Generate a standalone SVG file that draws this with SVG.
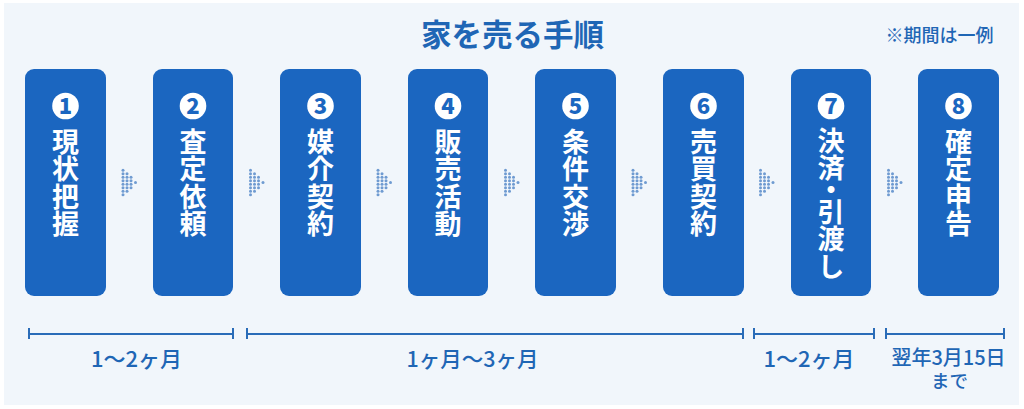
<svg xmlns="http://www.w3.org/2000/svg" xmlns:xlink="http://www.w3.org/1999/xlink" width="1024" height="409" viewBox="0 0 1024 409">
<style>
text{font-family:"Noto Sans CJK JP","Noto Sans",sans-serif;text-anchor:middle}
.box{fill:#1b66c0}
text.ch{fill:#fff;font-size:27px;font-weight:700;writing-mode:vertical-rl;text-anchor:start;letter-spacing:.5px}
.num{fill:#1b66c0;font-size:22px;font-weight:900}
.disc{fill:#fff}
.lab{fill:#1f66b5;font-size:22px;font-weight:500}
.small{fill:#1f66b5;font-size:20px;font-weight:500}
.br{stroke:#2a6cb8;stroke-width:2;fill:none}
.dot{fill:#6f9bd1}
</style>
<defs>
<g id="arrow">
<circle class="dot" cx="0" cy="-12.25" r="1.5"/><circle class="dot" cx="0" cy="-8.75" r="1.5"/><circle class="dot" cx="0" cy="-5.25" r="1.5"/><circle class="dot" cx="0" cy="-1.75" r="1.5"/><circle class="dot" cx="0" cy="1.75" r="1.5"/><circle class="dot" cx="0" cy="5.25" r="1.5"/><circle class="dot" cx="0" cy="8.75" r="1.5"/><circle class="dot" cx="0" cy="12.25" r="1.5"/>
<circle class="dot" cx="4" cy="-8.75" r="1.5"/><circle class="dot" cx="4" cy="-5.25" r="1.5"/><circle class="dot" cx="4" cy="-1.75" r="1.5"/><circle class="dot" cx="4" cy="1.75" r="1.5"/><circle class="dot" cx="4" cy="5.25" r="1.5"/><circle class="dot" cx="4" cy="8.75" r="1.5"/>
<circle class="dot" cx="8" cy="-5.25" r="1.5"/><circle class="dot" cx="8" cy="-1.75" r="1.5"/><circle class="dot" cx="8" cy="1.75" r="1.5"/><circle class="dot" cx="8" cy="5.25" r="1.5"/>
<circle class="dot" cx="12.5" cy="0" r="1.5"/>
</g>
</defs>
<rect width="1024" height="409" fill="#fff"/>
<rect x="4" y="3" width="1015" height="402" fill="#f1f6fb"/>
<text x="512.5" y="46" fill="#1f66b5" font-size="30.5" font-weight="700">家を売る手順</text>
<text x="939.5" y="42" class="small" style="font-size:18px">※期間は一例</text>
<g id="connectors">
<use href="#arrow" x="123" y="182.5"/><use href="#arrow" x="250.5" y="182.5"/><use href="#arrow" x="378" y="182.5"/><use href="#arrow" x="505.5" y="182.5"/><use href="#arrow" x="633" y="182.5"/><use href="#arrow" x="760.5" y="182.5"/><use href="#arrow" x="888.5" y="182.5"/>
</g>
<g id="n1"><rect class="box" x="25" y="69" width="81" height="227" rx="9"/><circle class="disc" cx="65.5" cy="106" r="13.3"/><text class="num" x="65.5" y="113.5">1</text><text class="ch" x="65.5" y="128.2">現状把握</text></g>
<g id="n2"><rect class="box" x="153" y="69" width="80" height="227" rx="9"/><circle class="disc" cx="193" cy="106" r="13.3"/><text class="num" x="193" y="113.5">2</text><text class="ch" x="193" y="128.2">査定依頼</text></g>
<g id="n3"><rect class="box" x="280" y="69" width="81" height="227" rx="9"/><circle class="disc" cx="320.5" cy="106" r="13.3"/><text class="num" x="320.5" y="113.5">3</text><text class="ch" x="320.5" y="128.2">媒介契約</text></g>
<g id="n4"><rect class="box" x="408" y="69" width="80" height="227" rx="9"/><circle class="disc" cx="448" cy="106" r="13.3"/><text class="num" x="448" y="113.5">4</text><text class="ch" x="448" y="128.2">販売活動</text></g>
<g id="n5"><rect class="box" x="535" y="69" width="81" height="227" rx="9"/><circle class="disc" cx="575.5" cy="106" r="13.3"/><text class="num" x="575.5" y="113.5">5</text><text class="ch" x="575.5" y="128.2">条件交渉</text></g>
<g id="n6"><rect class="box" x="663" y="69" width="81" height="227" rx="9"/><circle class="disc" cx="703.5" cy="106" r="13.3"/><text class="num" x="703.5" y="113.5">6</text><text class="ch" x="703.5" y="128.2">売買契約</text></g>
<g id="n7"><rect class="box" x="791" y="69" width="80" height="227" rx="9"/><circle class="disc" cx="831" cy="106" r="13.3"/><text class="num" x="831" y="113.5">7</text><text class="ch" x="831" y="127.2">決済<tspan dy="-6">・</tspan><tspan dy="-6">引渡し</tspan></text></g>
<g id="n8"><rect class="box" x="918" y="69" width="81" height="227" rx="9"/><circle class="disc" cx="958.5" cy="106" r="13.3"/><text class="num" x="958.5" y="113.5">8</text><text class="ch" x="958.5" y="128.2">確定申告</text></g>
<g id="brackets">
<path class="br" d="M29 328v11M29 334H233M233 328v11"/>
<path class="br" d="M247 328v11M247 334H743M743 328v11"/>
<path class="br" d="M754 328v11M754 334H874M874 328v11"/>
<path class="br" d="M886 328v11M886 334H1004M1004 328v11"/>
</g>
<text class="lab" x="136.5" y="367">1～2ヶ月</text>
<text class="lab" x="472.5" y="367" style="font-size:21.5px">1ヶ月～3ヶ月</text>
<text class="lab" x="809" y="367">1～2ヶ月</text>
<text class="small" x="948.5" y="365">翌年3月15日<tspan x="949.5" dy="23" style="font-size:18.5px">まで</tspan></text>
</svg>
